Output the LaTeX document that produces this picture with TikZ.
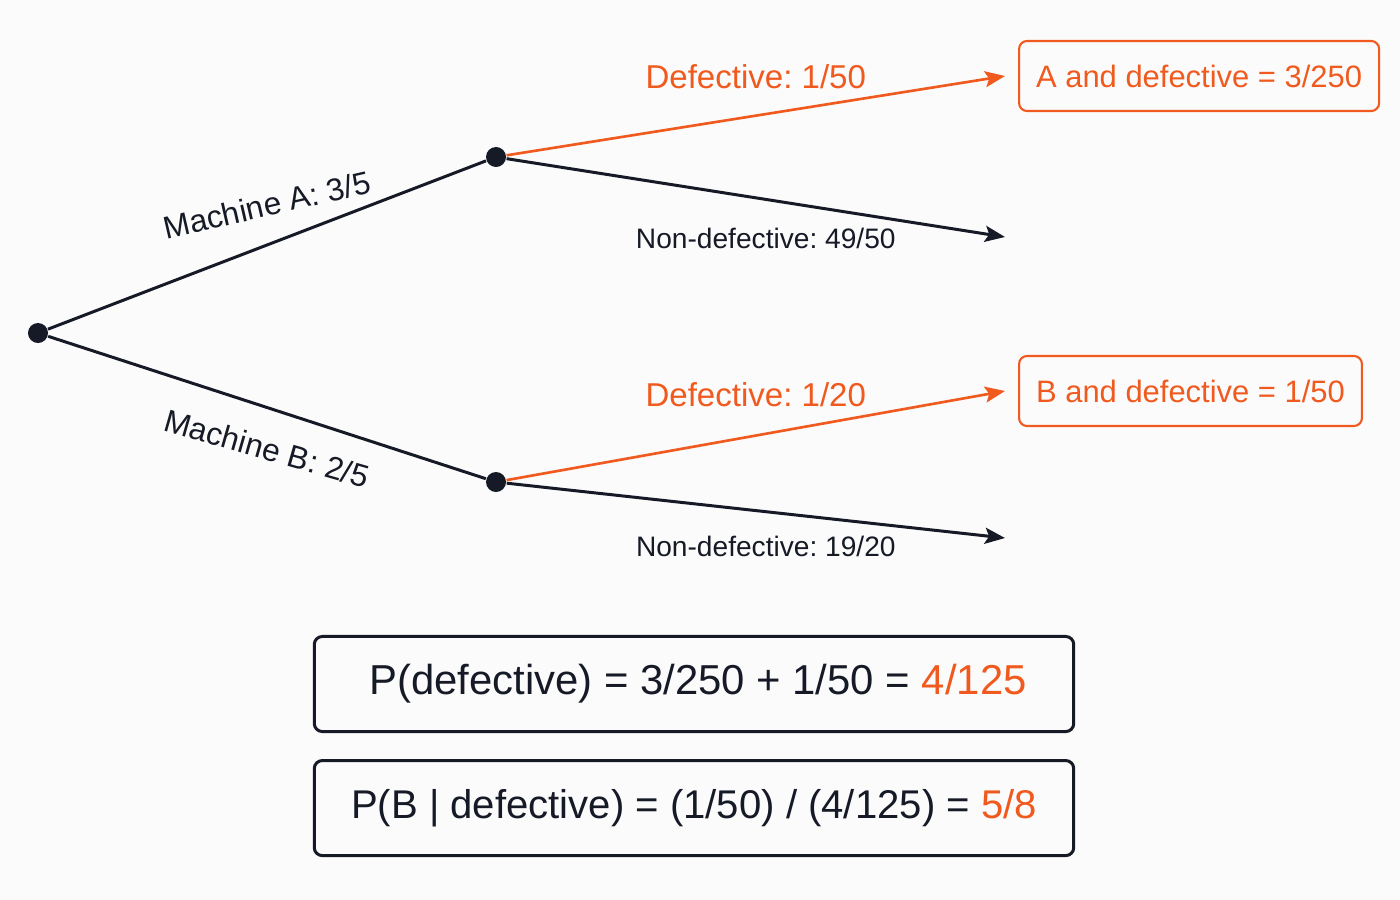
\documentclass[tikz,border=0pt]{standalone}
\usepackage{fontspec}
\setmainfont{Liberation Sans}
\usepackage{xcolor}
\usetikzlibrary{positioning,arrows.meta}
\definecolor{treeorange}{RGB}{240,90,30}
\definecolor{treeink}{RGB}{22,26,38}
\definecolor{paper}{RGB}{251,251,251}
\tikzstyle{dot} = [circle, fill=treeink, inner sep=0pt, minimum size=0.2cm]
\tikzstyle{line} = [draw, treeink, line width=0.85pt]
\tikzstyle{arrow} = [draw, treeink, -{Stealth[length=0.2cm, width=0.16cm, inset=0.04cm]}, line width=0.85pt]
\tikzstyle{hotarrow} = [arrow, treeorange, line width=0.75pt]
\tikzstyle{resultbox} = [rectangle, draw=treeorange, text=treeorange, line width=0.6pt,
    rounded corners=0.08cm, minimum height=0.7cm, inner xsep=0.17cm, font=\fontsize{8.8}{11}\selectfont]
\tikzstyle{sumbox} = [rectangle, draw=treeink, text=treeink, line width=0.85pt,
    rounded corners=0.08cm, minimum width=7.59cm, minimum height=0.95cm, font=\fontsize{11.9}{14}\selectfont]
\tikzstyle{hotlabel} = [anchor=center, text=treeorange, font=\fontsize{9.4}{11}\selectfont]
\tikzstyle{oklabel} = [anchor=center, text=treeink, font=\fontsize{8}{10}\selectfont]
\tikzstyle{machlabel} = [anchor=center, text=treeink, font=\fontsize{9}{11}\selectfont]

\begin{document}
\frenchspacing
\begin{tikzpicture}[x=0.01cm, y=-0.01cm, node distance=1.24cm]
			% Background
			\fill [paper] (0,0) rectangle (1400,900);
			\useasboundingbox (0,0) rectangle (1400,900);

			% Place nodes
			\node [dot] (root) at (38,333) {};
			\node [dot] (machineA) at (496,157) {};
			\node [dot] (machineB) at (496,482) {};
			\coordinate (aDefEnd) at (1005,76);
			\coordinate (aOkEnd) at (1005,237);
			\coordinate (bDefEnd) at (1005,391);
			\coordinate (bOkEnd) at (1005,538);
			\node [resultbox, right=0.13cm of aDefEnd] (aDefective) {A and defective = 3/250};
			\node [resultbox, right=0.13cm of bDefEnd] (bDefective) {B and defective = 1/50};
			\node [sumbox] (pDefective) at (694,684) {\hspace{0.08cm}P(defective) = 3/250 + 1/50 = {\color{treeorange}4/125}};
			\node [sumbox, below of=pDefective, font=\fontsize{11.4}{14}\selectfont] (pBayes) {P(B | defective) = (1/50) / (4/125) = {\color{treeorange}5/8}};

			% Draw edges
			\path [line] (root) -- node [machlabel, midway, yshift=0.4cm, rotate=13] {Machine A: 3/5} (machineA);
			\path [line] (root) -- node [machlabel, midway, yshift=-0.41cm, rotate=-16] {Machine B: 2/5} (machineB);
			\path [hotarrow] (machineA) -- node [hotlabel, midway, yshift=0.39cm] {Defective: 1/50} (aDefEnd);
			\path [arrow] (machineA) -- node [oklabel, midway, xshift=0.1cm, yshift=-0.41cm] {Non-defective: 49/50} (aOkEnd);
			\path [hotarrow] (machineB) -- node [hotlabel, midway, yshift=0.41cm] {Defective: 1/20} (bDefEnd);
			\path [arrow] (machineB) -- node [oklabel, midway, xshift=0.1cm, yshift=-0.36cm] {Non-defective: 19/20} (bOkEnd);
	\end{tikzpicture}
\end{document}
